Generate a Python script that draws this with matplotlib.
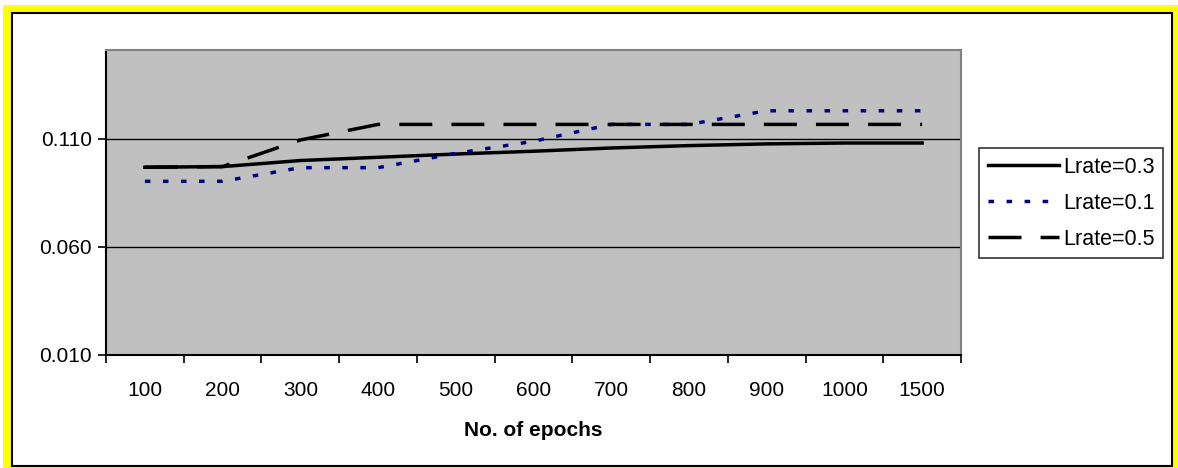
import matplotlib.pyplot as plt
from matplotlib.patches import Rectangle

epochs = ["100", "200", "300", "400", "500", "600", "700", "800", "900", "1000", "1500"]
lrate_03 = [0.0968, 0.0971, 0.0999, 0.1014, 0.1029, 0.1042, 0.1057, 0.1068, 0.1076, 0.1080, 0.1080]
lrate_01 = [0.0903, 0.0903, 0.0966, 0.0966, 0.1032, 0.1088, 0.1166, 0.1166, 0.1229, 0.1229, 0.1229]
lrate_05 = [0.0968, 0.0971, 0.1094, 0.1166, 0.1166, 0.1166, 0.1166, 0.1166, 0.1166, 0.1166, 0.1166]
yticks = [0.010, 0.060, 0.110]

plt.rcParams['font.family'] = ['Liberation Sans', 'DejaVu Sans']

W, H = 1178, 468
fig = plt.figure(figsize=(W / 100, H / 100), dpi=100)

# yellow frame with black inner border
fig.patches.append(Rectangle((3 / W, 0), 1 - 3 / W, 1 - 5 / H, transform=fig.transFigure,
                             facecolor='#FFFF00', edgecolor='none', zorder=-10))
fig.patches.append(Rectangle((11.5 / W, (H - 466) / H), (1171.5 - 11.5) / W, (466 - 12.5) / H,
                             transform=fig.transFigure, facecolor='white',
                             edgecolor='black', linewidth=1.5, zorder=-9))

ax = fig.add_axes([106 / W, (H - 355) / H, (961 - 106) / W, (355 - 50) / H])
ax.set_facecolor('#C0C0C0')

x = list(range(len(epochs)))
ax.plot(x, lrate_03, color='black', linewidth=2.5, linestyle='-', label='Lrate=0.3')
ax.plot(x, lrate_01, color='#000080', linewidth=2.5, linestyle=(0, (1.6, 3.6)), label='Lrate=0.1')
ax.plot(x, lrate_05, color='black', linewidth=2.5, linestyle=(0, (9.5, 5.5)), label='Lrate=0.5')

for y in yticks[1:]:
    ax.axhline(y, color='black', linewidth=1, zorder=1)

ax.set_xlim(-0.5, len(epochs) - 0.5)
ax.set_ylim(0.010, 0.151)
ax.set_yticks(yticks)
ax.set_yticklabels(["%.3f" % v for v in yticks])
ax.set_xticks(x)
ax.set_xticklabels(epochs)
ax.set_xticks([i - 0.5 for i in range(len(epochs) + 1)], minor=True)
ax.tick_params(axis='x', which='major', length=0, pad=19, labelsize=15)
ax.tick_params(axis='x', which='minor', length=6, width=1.2, direction='out')
ax.tick_params(axis='y', length=6, width=1.2, direction='out', pad=4, labelsize=15)

for side in ['top', 'right']:
    ax.spines[side].set_color('#808080')
    ax.spines[side].set_linewidth(1.5)
for side in ['left', 'bottom']:
    ax.spines[side].set_color('black')
    ax.spines[side].set_linewidth(1.5)

ax.set_xlabel("No. of epochs", fontsize=15, fontweight='bold', labelpad=15)

leg = ax.legend(loc='upper left', bbox_to_anchor=(979 / W, (H - 148) / H),
                bbox_transform=fig.transFigure, fontsize=15.5, frameon=True,
                fancybox=False, edgecolor='black', borderpad=0.4,
                handlelength=3.3, handletextpad=0.2, labelspacing=0.7,
                borderaxespad=0)
leg.get_frame().set_linewidth(1.2)

fig.savefig("out.png", dpi=100)
